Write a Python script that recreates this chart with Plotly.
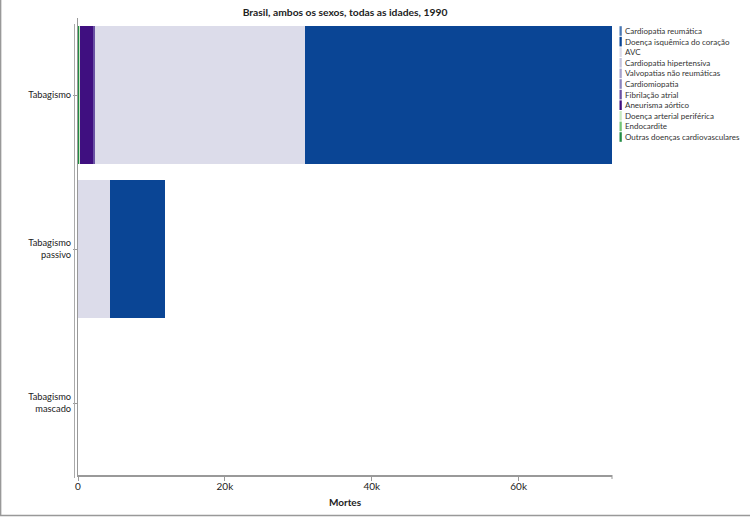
import plotly.graph_objects as go

# ---- data ----
categories = ["Tabagismo", "Tabagismo passivo", "Tabagismo mascado"]
tick_labels = ["Tabagismo", "Tabagismo<br>passivo", "Tabagismo<br>mascado"]

causes = [
    "Cardiopatia reumática",
    "Doença isquêmica do coração",
    "AVC",
    "Cardiopatia hipertensiva",
    "Valvopatias não reumáticas",
    "Cardiomiopatia",
    "Fibrilação atrial",
    "Aneurisma aórtico",
    "Doença arterial periférica",
    "Endocardite",
    "Outras doenças cardiovasculares",
]
colors = [
    "#4a78b4", "#0a4595", "#dcdcea", "#c4c4de", "#a6a3cc", "#8a84bf",
    "#6a51a3", "#3f0f80", "#c7e9c0", "#74c476", "#238b45",
]
# deaths per risk (Tabagismo, Tabagismo passivo, Tabagismo mascado)
reumatica = [0, 0, 0]
isquemica = [41770, 7520, 0]
avc = [28570, 4380, 0]
hipertensiva = [0, 0, 0]
valvopatias = [0, 0, 0]
cardiomiopatia = [0, 0, 0]
fibrilacao = [340, 0, 0]
aneurisma = [1770, 0, 0]
arterial_periferica = [60, 0, 0]
endocardite = [0, 0, 0]
outras = [200, 0, 0]

values = [reumatica, isquemica, avc, hipertensiva, valvopatias, cardiomiopatia,
          fibrilacao, aneurisma, arterial_periferica, endocardite, outras]

x_ticks = [0, 20000, 40000, 60000]
x_tick_text = ["0", "20k", "40k", "60k"]

# ---- layout geometry ----
W, H = 750, 517
ML, MR, MT, MB = 78, 138, 18, 42
PW, PH = W - ML - MR, H - MT - MB

def px(X):
    return (X - ML) / PW

def py(Y):
    return (H - MB - Y) / PH

FONT = "Lato"

fig = go.Figure()
# stack from left: last cause first
for name, col, vals in reversed(list(zip(causes, colors, values))):
    fig.add_trace(go.Bar(
        y=categories, x=vals, name=name, orientation="h",
        marker=dict(color=col, line=dict(width=0)), showlegend=False,
        hoverinfo="skip",
    ))

total = max(sum(v[i] for v in values) for i in range(len(categories)))

shapes = []
annotations = []
# custom compact legend
leg_y = [31, 41.6, 52.2, 62.8, 73.4, 84, 94.6, 105.2, 115.8, 126.4, 137]
for name, col, Y in zip(causes, colors, leg_y):
    shapes.append(dict(type="rect", xref="paper", yref="paper",
                       x0=px(619.5), x1=px(621.8), y0=py(Y + 4.8), y1=py(Y - 4.8),
                       fillcolor=col, line=dict(width=0)))
    annotations.append(dict(text=name, xref="paper", yref="paper",
                            x=px(623), y=py(Y), xanchor="left", yanchor="middle",
                            showarrow=False, font=dict(family=FONT, size=8, color="#333")))

# second (outer) y-axis line
shapes.append(dict(type="line", xref="paper", yref="paper",
                   x0=px(74.5), x1=px(74.5), y0=py(478), y1=py(24),
                   line=dict(color="#aaaaaa", width=1)))
# frame of the image (left and bottom)
shapes.append(dict(type="line", xref="paper", yref="paper",
                   x0=px(0.6), x1=px(0.6), y0=py(516), y1=py(0),
                   line=dict(color="#999999", width=1.5)))
shapes.append(dict(type="line", xref="paper", yref="paper",
                   x0=px(0), x1=px(750), y0=py(515.5), y1=py(515.5),
                   line=dict(color="#999999", width=1.5)))
# end mark of x axis
shapes.append(dict(type="line", xref="paper", yref="paper",
                   x0=1, x1=1, y0=py(475), y1=py(479),
                   line=dict(color="#999999", width=1)))

fig.update_layout(
    width=W, height=H,
    margin=dict(l=ML, r=MR, t=MT, b=MB, pad=0, autoexpand=False),
    paper_bgcolor="white", plot_bgcolor="white",
    barmode="stack", bargap=0.104,
    showlegend=False,
    title=dict(text="<b>Brasil, ambos os sexos, todas as idades, 1990</b>",
               xref="paper", x=px(345), xanchor="center", y=1 - 12 / H, yanchor="middle",
               font=dict(family=FONT, size=10.3, color="#222")),
    font=dict(family=FONT, size=10, color="#222"),
    xaxis=dict(range=[0, total], tickvals=x_ticks, ticktext=x_tick_text,
               showgrid=False, zeroline=False, showline=True, automargin=False,
               linecolor="#999999", linewidth=1.5, ticks="outside", ticklen=4,
               ticklabelstandoff=-3,
               tickcolor="#999999", tickfont=dict(family=FONT, size=10, color="#222"),
               title=dict(text="<b>Mortes</b>", standoff=8,
                          font=dict(family=FONT, size=10, color="#222"))),
    yaxis=dict(categoryorder="array", categoryarray=categories[::-1],
               range=[-0.4675, 2.5],
               tickvals=categories, ticktext=tick_labels, automargin=False,
               showgrid=False, zeroline=False, showline=True,
               linecolor="#999999", linewidth=1, ticks="outside", ticklen=4,
               tickcolor="#999999", tickfont=dict(family=FONT, size=9.3, color="#222")),
    shapes=shapes,
    annotations=annotations,
)

fig.write_html("out.html", config={"displayModeBar": False},
               post_script="document.body.style.margin='0px';")
